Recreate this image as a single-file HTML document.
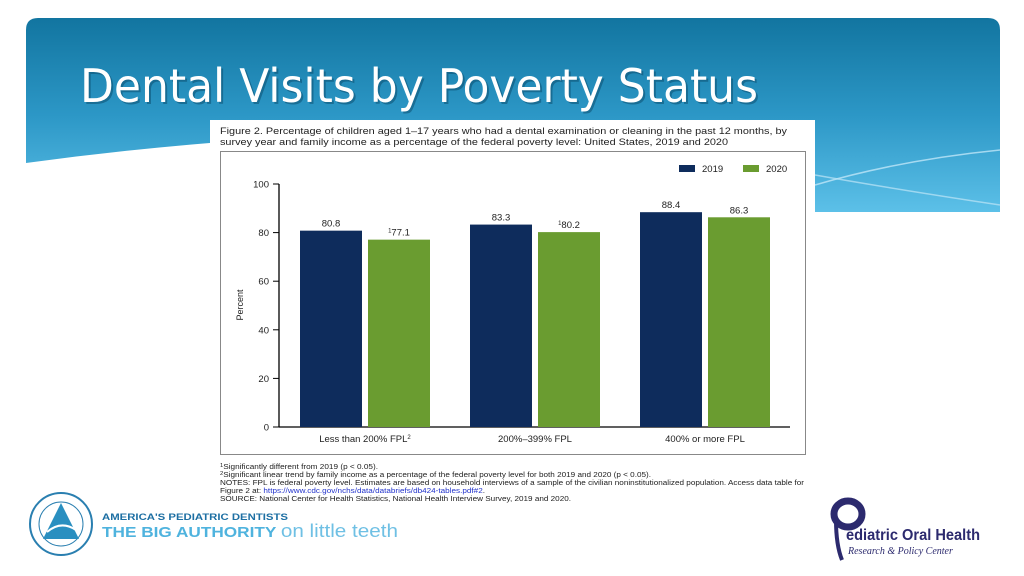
<!DOCTYPE html>
<html><head><meta charset="utf-8"><style>
html,body{margin:0;padding:0;width:1024px;height:576px;overflow:hidden;background:#fff;font-family:"Liberation Sans",sans-serif}
svg{display:block}
</style></head><body>
<svg width="1024" height="576" viewBox="0 0 1024 576">
<defs>
<linearGradient id="bg" x1="0" y1="0" x2="0" y2="1">
<stop offset="0" stop-color="#1275a0"/><stop offset="0.5" stop-color="#2c97c6"/><stop offset="1" stop-color="#5cc0e8"/>
</linearGradient>
</defs>
<path d="M26,30 Q26,18 38,18 L988,18 Q1000,18 1000,30 L1000,212 L815,212 L815,140 Q400,112 26,163 Z" fill="url(#bg)"/>
<path d="M815,185 Q900,160 1000,150" stroke="#bfe6f7" stroke-width="1.5" fill="none" opacity="0.8"/>
<path d="M815,175 Q900,190 1000,205" stroke="#bfe6f7" stroke-width="1.5" fill="none" opacity="0.7"/>
<text x="82" y="104" font-family="'DejaVu Sans Condensed','Liberation Sans',sans-serif" font-size="46" fill="#0a4a6a" opacity="0.5" textLength="678" lengthAdjust="spacingAndGlyphs">Dental Visits by Poverty Status</text>
<text x="80" y="102" font-family="'DejaVu Sans Condensed','Liberation Sans',sans-serif" font-size="46" fill="#fff" textLength="678" lengthAdjust="spacingAndGlyphs">Dental Visits by Poverty Status</text>

<rect x="210" y="120" width="605" height="386" fill="#fff"/>
<text font-size="9" fill="#222"><tspan x="220" y="134" textLength="567" lengthAdjust="spacingAndGlyphs">Figure 2. Percentage of children aged 1–17 years who had a dental examination or cleaning in the past 12 months, by</tspan><tspan x="220" y="145" textLength="508" lengthAdjust="spacingAndGlyphs">survey year and family income as a percentage of the federal poverty level: United States, 2019 and 2020</tspan></text>
<rect x="220.5" y="151.5" width="585" height="303" fill="none" stroke="#888" stroke-width="1"/>
<g id="chart"></g>
<g>
<rect x="679" y="165" width="16" height="7" fill="#0e2c5c"/>
<text x="702" y="172" font-size="9.5" fill="#222">2019</text>
<rect x="743" y="165" width="16" height="7" fill="#6a9c30"/>
<text x="766" y="172" font-size="9.5" fill="#222">2020</text>
</g>
<text transform="translate(243,305) rotate(-90)" text-anchor="middle" font-size="9" fill="#222">Percent</text>

<g font-size="7" fill="#222">
<text x="220" y="469" textLength="158" lengthAdjust="spacingAndGlyphs"><tspan font-size="5" dy="-2">1</tspan><tspan dy="2">Significantly different from 2019 (p &lt; 0.05).</tspan></text>
<text x="220" y="477" textLength="431" lengthAdjust="spacingAndGlyphs"><tspan font-size="5" dy="-2">2</tspan><tspan dy="2">Significant linear trend by family income as a percentage of the federal poverty level for both 2019 and 2020 (p &lt; 0.05).</tspan></text>
<text x="220" y="485" textLength="584" lengthAdjust="spacingAndGlyphs">NOTES: FPL is federal poverty level. Estimates are based on household interviews of a sample of the civilian noninstitutionalized population. Access data table for</text>
<text x="220" y="493" textLength="265" lengthAdjust="spacingAndGlyphs">Figure 2 at: <tspan fill="#2233cc">https://www.cdc.gov/nchs/data/databriefs/db424-tables.pdf#2</tspan>.</text>
<text x="220" y="501" textLength="351" lengthAdjust="spacingAndGlyphs">SOURCE: National Center for Health Statistics, National Health Interview Survey, 2019 and 2020.</text>
</g>

<g>
<circle cx="61" cy="524" r="31" fill="#fff" stroke="#2a7fb0" stroke-width="2"/>
<circle cx="61" cy="524" r="22" fill="none" stroke="#2a7fb0" stroke-width="1"/>
<polygon points="61,503 43,539 79,539" fill="#2a8fc0"/>
<path d="M47,532 Q61,520 76,530" stroke="#fff" stroke-width="2" fill="none"/>
<text x="102" y="520" font-size="9.5" font-weight="bold" fill="#1d6fa3" textLength="186" lengthAdjust="spacingAndGlyphs">AMERICA'S PEDIATRIC DENTISTS</text>
<text x="102" y="537" font-size="15" font-weight="bold" fill="#4fb3de" textLength="296" lengthAdjust="spacingAndGlyphs">THE BIG AUTHORITY <tspan font-weight="normal" font-size="18" fill="#6fc0e4">on little teeth</tspan></text>
</g>
<g>
<ellipse cx="848" cy="514" rx="14" ry="13" fill="none" stroke="#2c2a6e" stroke-width="7"/>
<path d="M836,520 Q836,545 842,560" stroke="#2c2a6e" stroke-width="4" fill="none"/>
<text x="846" y="540" font-size="16" font-weight="bold" fill="#2c2a6e" textLength="134" lengthAdjust="spacingAndGlyphs">ediatric Oral Health</text>
<text x="848" y="554" font-size="10" font-style="italic" font-family="'Liberation Serif',serif" fill="#2c2a6e">Research &amp; Policy Center</text>
</g>
</svg>
<script>
const categories=["Less than 200% FPL","200%–399% FPL","400% or more FPL"];
const catSup=["2","",""];
const v2019=[80.8,83.3,88.4];
const v2020=[77.1,80.2,86.3];
const lbl2019=["80.8","83.3","88.4"];
const lbl2020=["77.1","80.2","86.3"];
const sig2020=["1","1",""];
const yTicks=[0,20,40,60,80,100];

const NS="http://www.w3.org/2000/svg";
const g=document.getElementById('chart');
const x0=279,x1=790,yBase=427,yTop=184;
function y(v){return yBase-(v/100)*(yBase-yTop);}
function gx(i){return 365+i*170;}
function mk(t,a){const e=document.createElementNS(NS,t);for(const k in a)e.setAttribute(k,a[k]);g.appendChild(e);return e;}

let ax=mk('line',{x1:x0,y1:yTop,x2:x0,y2:yBase,stroke:'#000','stroke-width':1.3});


let bx=mk('line',{x1:x0,y1:yBase,x2:x1,y2:yBase,stroke:'#000','stroke-width':1.3});


yTicks.forEach(t=>{
  let tk=mk('line',{x1:x0-6,y1:y(t),x2:x0,y2:y(t),stroke:'#000','stroke-width':1});
  
  
  let tl=mk('text',{x:x0-10,y:y(t)+3.5,'text-anchor':'end','font-size':9.5,fill:'#222'});
  tl.textContent=t;
  
  
});
categories.forEach((c,i)=>{
  const cx=gx(i);
  let b1=mk('rect',{x:cx-65,y:y(v2019[i]),width:62,height:yBase-y(v2019[i]),fill:'#0e2c5c'});
  
  
  let b2=mk('rect',{x:cx+3,y:y(v2020[i]),width:62,height:yBase-y(v2020[i]),fill:'#6a9c30'});
  
  
  let l1=mk('text',{x:cx-34,y:y(v2019[i])-4,'text-anchor':'middle','font-size':9.5,fill:'#222'});
  l1.textContent=lbl2019[i];
  
  
  let l2=mk('text',{x:cx+34,y:y(v2020[i])-4,'text-anchor':'middle','font-size':9.5,fill:'#222'});
  l2.innerHTML=(sig2020[i]?'<tspan font-size="6" dy="-3">'+sig2020[i]+'</tspan><tspan dy="3">':'<tspan>')+lbl2020[i]+'</tspan>';
  
  
  let cl=mk('text',{x:cx,y:yBase+15,'text-anchor':'middle','font-size':9.5,fill:'#222'});
  cl.innerHTML=c+(catSup[i]?'<tspan font-size="6" dy="-3">'+catSup[i]+'</tspan>':'');
  
  
});
</script>
</body></html>
